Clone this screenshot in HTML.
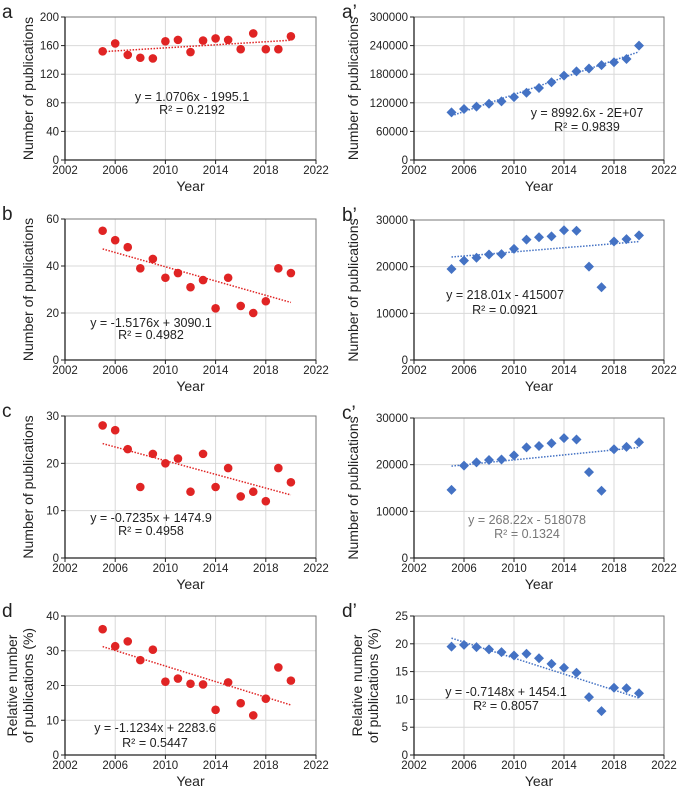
<!DOCTYPE html>
<html><head><meta charset="utf-8">
<style>
body{margin:0;background:#fff;}
svg text{font-family:"Liberation Sans",Arial,sans-serif;fill:#222;}
</style></head>
<body>
<svg id="fig" width="678" height="792" xmlns="http://www.w3.org/2000/svg"></svg>
<script>
const years = [2005,2006,2007,2008,2009,2010,2011,2012,2013,2014,2015,2016,2017,2018,2019,2020];
const valsA = [152,163,147,143,142,166,168,151,167,170,168,155,177,155,155,173];
const valsA2 = [100000,107000,112000,118000,123000,132000,141000,151000,163000,177000,186000,192000,199000,205000,212000,240000];
const valsB = [55,51,48,39,43,35,37,31,34,22,35,23,20,25,39,37];
const valsB2 = [19500,21300,21900,22600,22700,23800,25800,26300,26500,27800,27700,20000,15600,25400,25900,26700];
const valsC = [28,27,23,15,22,20,21,14,22,15,19,13,14,12,19,16];
const valsC2 = [14600,19800,20500,21000,21100,22000,23700,24000,24600,25700,25400,18400,14400,23300,23800,24800];
const valsD = [36.2,31.3,32.7,27.3,30.3,21.1,22.0,20.5,20.3,13.0,20.9,14.9,11.4,16.2,25.2,21.4];
const valsD2 = [19.5,19.8,19.4,19.0,18.5,17.9,18.2,17.4,16.4,15.7,14.8,10.4,7.9,12.1,12.0,11.1];
const xTicks = [2002,2006,2010,2014,2018,2022];
const ticksA = [0,40,80,120,160,200];
const ticksA2 = [0,60000,120000,180000,240000,300000];
const ticksB = [0,20,40,60];
const ticksB2 = [0,10000,20000,30000];
const ticksC = [0,10,20,30];
const ticksD2 = [0,5,10,15,20,25];
const ticksD = [0,10,20,30,40];

const NS="http://www.w3.org/2000/svg";
const svg=document.getElementById('fig');
function mk(tag,attrs,parent){const e=document.createElementNS(NS,tag);for(const k in attrs)e.setAttribute(k,attrs[k]);(parent||svg).appendChild(e);return e;}

const panels=[
 {id:'a',label:'a',vals:valsA,ticks:ticksA,left:true,top:17,bot:160,eq:['y = 1.0706x - 1995.1','R² = 0.2192'],ex:192,ey:[101,114],title:['Number of publications'],gray:false},
 {id:'a2',label:'a’',vals:valsA2,ticks:ticksA2,left:false,top:17,bot:160,eq:['y = 8992.6x - 2E+07','R² = 0.9839'],ex:587,ey:[117,131],title:['Number of publications'],gray:false},
 {id:'b',label:'b',vals:valsB,ticks:ticksB,left:true,top:219,bot:360,eq:['y = -1.5176x + 3090.1','R² = 0.4982'],ex:151,ey:[327,339],title:['Number of publications'],gray:false},
 {id:'b2',label:'b’',vals:valsB2,ticks:ticksB2,left:false,top:220,bot:360,eq:['y = 218.01x - 415007','R² = 0.0921'],ex:505,ey:[299,314],title:['Number of publications'],gray:false},
 {id:'c',label:'c',vals:valsC,ticks:ticksC,left:true,top:416,bot:558,eq:['y = -0.7235x + 1474.9','R² = 0.4958'],ex:151,ey:[522,535],title:['Number of publications'],gray:false},
 {id:'c2',label:'c’',vals:valsC2,ticks:ticksB2,left:false,top:418,bot:558,eq:['y = 268.22x - 518078','R² = 0.1324'],ex:527,ey:[524,538],title:['Number of publications'],gray:true},
 {id:'d',label:'d',vals:valsD,ticks:ticksD,left:true,top:616,bot:755,eq:['y = -1.1234x + 2283.6','R² = 0.5447'],ex:155,ey:[732,747],title:['Relative number','of publications (%)'],gray:false},
 {id:'d2',label:'d’',vals:valsD2,ticks:ticksD2,left:false,top:616,bot:755,eq:['y = -0.7148x + 1454.1','R² = 0.8057'],ex:506,ey:[696,710],title:['Relative number','of publications (%)'],gray:false},
];

panels.forEach(p=>{
  const g=mk('g',{});
  
  
  const x0=p.left?65:414, x1=p.left?316:664;
  const ymin=p.ticks[0], ymax=p.ticks[p.ticks.length-1];
  const sx=v=>x0+(v-2002)/(2022-2002)*(x1-x0);
  const sy=v=>p.bot-(v-ymin)/(ymax-ymin)*(p.bot-p.top);
  xTicks.forEach(t=>{const l=mk('line',{x1:sx(t),x2:sx(t),y1:p.top,y2:p.bot,stroke:'#d9d9d9','stroke-width':1},g);
    });
  p.ticks.forEach(t=>{const l=mk('line',{x1:x0,x2:x1,y1:sy(t),y2:sy(t),stroke:'#d9d9d9','stroke-width':1},g);
    });
  const fr=mk('rect',{x:x0,y:p.top,width:x1-x0,height:p.bot-p.top,fill:'none',stroke:'#777','stroke-width':1},g);
  
  const ax=mk('line',{x1:x0,x2:x1,y1:p.bot,y2:p.bot,stroke:'#222','stroke-width':1.3},g);
  
  const ay=mk('line',{x1:x0,x2:x0,y1:p.top,y2:p.bot,stroke:'#222','stroke-width':1.3},g);
  
  xTicks.forEach(t=>{
    mk('line',{x1:sx(t),x2:sx(t),y1:p.bot,y2:p.bot+4,stroke:'#222'},g);
    const tx=mk('text',{x:sx(t),y:p.bot+14,'text-anchor':'middle','font-size':11.5},g);tx.textContent=t;
    
  });
  p.ticks.forEach(t=>{
    mk('line',{x1:x0-4,x2:x0,y1:sy(t),y2:sy(t),stroke:'#222'},g);
    const tx=mk('text',{x:x0-6,y:sy(t)+4,'text-anchor':'end','font-size':11.5},g);tx.textContent=t;
    
  });
  const xt=mk('text',{x:(x0+x1)/2,y:p.bot+31,'text-anchor':'middle','font-size':14},g);xt.textContent='Year';
  
  const tcx=p.left?(p.title.length>1?20:28):(p.title.length>1?365:353);
  const tcy=(p.top+p.bot)/2;
  p.title.forEach((line,i)=>{
    const off=p.title.length>1?(i-0.5)*16:0;
    const yt=mk('text',{x:0,y:0,'text-anchor':'middle','font-size':14,transform:`translate(${tcx+off+5},${tcy}) rotate(-90)`},g);
    yt.textContent=line;
    
  });
  const lb=mk('text',{x:p.left?2:342,y:p.top+1,'font-size':19},g);lb.textContent=p.label;
  
  const n=years.length;let mx=0,my=0;years.forEach((x,i)=>{mx+=x;my+=p.vals[i];});mx/=n;my/=n;
  let sxy=0,sxx=0;years.forEach((x,i)=>{sxy+=(x-mx)*(p.vals[i]-my);sxx+=(x-mx)*(x-mx);});
  const m=sxy/sxx,b=my-m*mx;
  const color=p.left?'#e02424':'#4472c4';
  const tl=mk('line',{x1:sx(years[0]),y1:sy(m*years[0]+b),x2:sx(years[n-1]),y2:sy(m*years[n-1]+b),stroke:color,'stroke-width':1.5,'stroke-dasharray':'1.5,1.5'},g);
  
  years.forEach((yr,i)=>{
    let mkEl;
    if(p.left){mkEl=mk('circle',{cx:sx(yr),cy:sy(p.vals[i]),r:4.3,fill:color},g);}
    else{const cx=sx(yr),cy=sy(p.vals[i]),r=5;
      mkEl=mk('polygon',{points:`${cx},${cy-r} ${cx+r},${cy} ${cx},${cy+r} ${cx-r},${cy}`,fill:color},g);}
    
    
  });
  p.eq.forEach((s,i)=>{
    const t=mk('text',{x:p.ex,y:p.ey[i],'text-anchor':'middle','font-size':12.5,style:p.gray?'fill:#777':''},g);t.textContent=s;
    
  });
});
</script>
</body></html>
